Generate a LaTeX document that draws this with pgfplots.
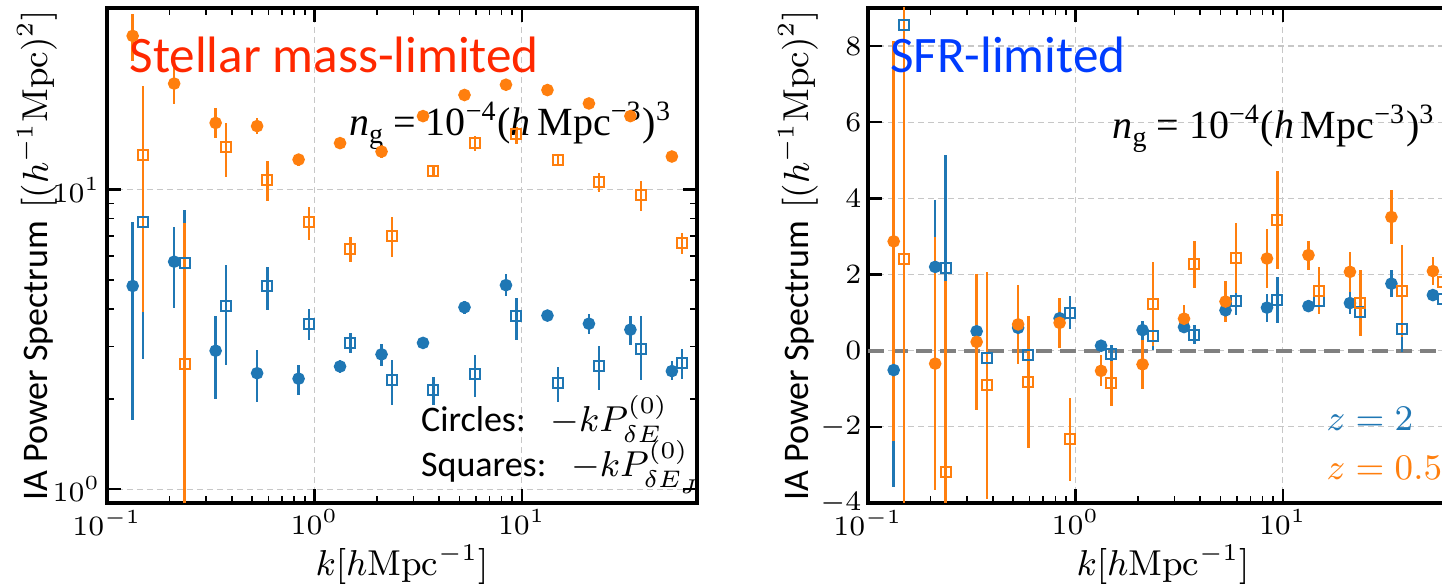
\documentclass[border=0pt]{standalone}
\usepackage{pgfplots}
\pgfplotsset{compat=1.18}
\usepackage{pgfplotstable}
\usepackage{fontspec}
\newfontfamily\gill{Carlito}
\newfontfamily\tms{Liberation Serif}
\definecolor{tblue}{HTML}{1F77B4}
\definecolor{torange}{HTML}{FF7F0E}
\definecolor{tred}{RGB}{255,40,0}
\definecolor{sblue}{RGB}{0,60,255}

% left panel (log y): k value err+ err-
\pgfplotstableread{
k v ep em
0.1330 4.77 3.06 3.07
0.2108 5.75 1.73 1.71
0.3341 2.90 0.90 0.90
0.5295 2.44 0.48 0.48
0.8392 2.34 0.26 0.27
1.330 2.57 0.13 0.12
2.108 2.82 0.24 0.25
3.341 3.08 0.08 0.08
5.295 4.05 0.20 0.20
8.392 4.80 0.43 0.37
13.30 3.80 0.10 0.10
21.08 3.57 0.28 0.26
33.41 3.41 0.39 0.38
52.95 2.48 0.19 0.17
}\lbc
\pgfplotstableread{
k v ep em
0.1492 7.83 5.10 5.10
0.2365 5.70 2.85 2.85
0.3749 4.10 1.52 1.51
0.5941 4.77 0.77 0.80
0.9416 3.57 0.43 0.43
1.492 3.08 0.24 0.23
2.365 2.32 0.39 0.41
3.749 2.15 0.22 0.24
5.941 2.42 0.38 0.39
9.416 3.79 0.57 0.63
14.92 2.26 0.30 0.31
23.65 2.57 0.43 0.42
37.49 2.94 0.86 0.62
59.41 2.64 0.29 0.30
}\lbs
\pgfplotstableread{
k v ep em
0.1330 32.6 6.0 5.7
0.2108 22.6 3.3 3.3
0.3341 16.7 2.1 1.8
0.5295 16.3 1.1 1.0
0.8392 12.6 0.6 0.6
1.330 14.3 0.3 0.3
2.108 13.4 0.7 0.6
3.341 17.6 0.3 0.3
5.295 20.7 0.4 0.4
8.392 22.4 0.4 0.4
13.30 21.5 0.4 0.4
21.08 19.4 0.4 0.4
33.41 17.6 0.4 0.4
52.95 12.9 0.3 0.3
}\loc
\pgfplotstableread{
k v ep em
0.1492 13.1 9.1 9.2
0.2365 2.62 5.1 2.3
0.3749 13.9 2.8 2.9
0.5941 10.8 1.7 1.6
0.9416 7.78 1.0 1.0
1.492 6.34 0.63 0.62
2.365 7.03 1.06 1.09
3.749 11.5 0.5 0.5
5.941 14.3 0.8 0.8
9.416 15.3 0.9 1.1
14.92 12.6 0.4 0.4
23.65 10.6 0.75 0.8
37.49 9.6 1.1 1.1
59.41 6.64 0.53 0.54
}\los
% right panel (linear y): k value err
\pgfplotstableread{
k v e
0.1330 -0.51 3.06
0.2108 2.20 1.75
0.3341 0.51 0.60
0.5295 0.60 0.30
0.8392 0.85 0.30
1.330 0.13 0.12
2.108 0.54 0.25
3.341 0.62 0.15
5.295 1.06 0.22
8.392 1.13 0.37
13.30 1.17 0.15
21.08 1.25 0.28
33.41 1.76 0.36
52.95 1.46 0.15
}\rbc
\pgfplotstableread{
k v e
0.1330 2.87 5.25
0.2108 -0.34 3.32
0.3341 0.23 1.79
0.5295 0.69 1.03
0.8392 0.73 0.66
1.330 -0.53 0.41
2.108 -0.36 0.64
3.341 0.84 0.35
5.295 1.29 0.55
8.392 2.42 0.78
13.30 2.51 0.38
21.08 2.07 0.53
33.41 3.51 0.72
52.95 2.09 0.37
}\roc
\pgfplotstableread{
k v e
0.1492 8.54 5.0
0.2365 2.16 2.97
0.3749 -0.19 1.45
0.5941 -0.12 0.50
0.9416 1.00 0.43
1.492 -0.09 0.25
2.365 0.39 0.36
3.749 0.42 0.25
5.941 1.30 0.37
9.416 1.33 0.61
14.92 1.31 0.30
23.65 1.02 0.30
37.49 0.56 0.60
59.41 1.35 0.20
}\rbs
\pgfplotstableread{
k v e
0.1492 2.40 7.0
0.2365 -3.18 5.0
0.3749 -0.91 2.98
0.5941 -0.83 1.73
0.9416 -2.33 1.10
1.492 -0.86 0.58
2.365 1.22 1.11
3.749 2.27 0.62
5.941 2.44 0.92
9.416 3.43 1.28
14.92 1.57 0.62
23.65 1.25 0.87
37.49 1.57 1.20
59.41 1.81 0.57
}\ros

\newcommand{\ngtext}{{\tms\fontsize{10}{12}\selectfont\textit{n}\raisebox{-0.22em}{\fontsize{7}{8}\selectfont g} = 10\textsuperscript{−4}(\textit{h}\,Mpc\textsuperscript{−3})\textsuperscript{3}}}
\newcommand{\ylab}{{\gill IA Power Spectrum} $[(h^{-1}\mathrm{Mpc})^2]$}

\begin{document}
\begin{tikzpicture}
\begin{axis}[name=L, at={(0pt,0pt)}, anchor=south west,
  scale only axis, width=147.5pt, height=123.75pt,
  xmode=log, xmin=0.1, xmax=70, xtick={0.1,1,10},
  ymode=log, ymin=0.9, ymax=40.4, ytick={1,10},
  tick align=inside,
  major tick length=3.5pt, minor tick length=1.75pt,
  major tick style={black, line width=0.6pt},
  minor tick style={black, line width=0.4pt},
  axis line style={line width=0.8pt},
  xmajorgrids, ymajorgrids,
  major grid style={dash pattern=on 1.5pt off 1pt, black!22, line width=0.3pt},
  tick label style={font=\fontsize{7.5}{9}\selectfont, inner sep=1.5pt}]
\addplot[only marks, mark=*, mark size=1.375pt, color=tblue,
  error bars/y dir=both, error bars/y explicit, error bars/error mark=none,
  error bars/error bar style={line width=0.6pt, solid}]
  table[x=k, y=v, y error plus=ep, y error minus=em] {\lbc};
\addplot[only marks, mark=square, mark size=1.25pt, color=tblue, mark options={line width=0.5pt, solid},
  error bars/y dir=both, error bars/y explicit, error bars/error mark=none,
  error bars/error bar style={line width=0.6pt, solid}]
  table[x=k, y=v, y error plus=ep, y error minus=em] {\lbs};
\addplot[only marks, mark=*, mark size=1.375pt, color=torange,
  error bars/y dir=both, error bars/y explicit, error bars/error mark=none,
  error bars/error bar style={line width=0.6pt, solid}]
  table[x=k, y=v, y error plus=ep, y error minus=em] {\loc};
\addplot[only marks, mark=square, mark size=1.25pt, color=torange, mark options={line width=0.5pt, solid},
  error bars/y dir=both, error bars/y explicit, error bars/error mark=none,
  error bars/error bar style={line width=0.6pt, solid}]
  table[x=k, y=v, y error plus=ep, y error minus=em] {\los};
\node[anchor=base west, text=tred, font=\gill\fontsize{12.8}{15}\selectfont, inner sep=0pt] at (rel axis cs:0.037,0.869) {Stellar mass-limited};
\node[anchor=base east, inner sep=0pt] at (rel axis cs:0.959,0.743) {\ngtext};
\node[anchor=base west, inner sep=0pt, font=\fontsize{9}{11}\selectfont] at (rel axis cs:0.531,0.144) {{\gill Circles:}\ \ $-kP^{(0)}_{\delta E}$};
\node[anchor=base west, inner sep=0pt, font=\fontsize{9}{11}\selectfont] at (rel axis cs:0.531,0.0525) {{\gill Squares:}\ \ $-kP^{(0)}_{\delta E_J}$};
\end{axis}

\begin{axis}[name=R, at={(190.25pt,0pt)}, anchor=south west,
  scale only axis, width=147.5pt, height=123.75pt,
  xmode=log, xmin=0.1, xmax=70, xtick={0.1,1,10},
  ymin=-4, ymax=9, ytick={-4,-2,0,2,4,6,8},
  tick align=inside,
  major tick length=3.5pt, minor tick length=1.75pt,
  major tick style={black, line width=0.6pt},
  minor tick style={black, line width=0.4pt},
  axis line style={line width=0.8pt},
  xmajorgrids, ymajorgrids,
  major grid style={dash pattern=on 1.5pt off 1pt, black!22, line width=0.3pt},
  tick label style={font=\fontsize{7.5}{9}\selectfont, inner sep=1.5pt}]
\addplot[gray, line width=1pt, dash pattern=on 4pt off 2pt] coordinates {(0.1,0) (70,0)};
\addplot[only marks, mark=*, mark size=1.375pt, color=tblue,
  error bars/y dir=both, error bars/y explicit, error bars/error mark=none,
  error bars/error bar style={line width=0.6pt, solid}]
  table[x=k, y=v, y error=e] {\rbc};
\addplot[only marks, mark=square, mark size=1.25pt, color=tblue, mark options={line width=0.5pt, solid},
  error bars/y dir=both, error bars/y explicit, error bars/error mark=none,
  error bars/error bar style={line width=0.6pt, solid}]
  table[x=k, y=v, y error=e] {\rbs};
\addplot[only marks, mark=*, mark size=1.375pt, color=torange,
  error bars/y dir=both, error bars/y explicit, error bars/error mark=none,
  error bars/error bar style={line width=0.6pt, solid}]
  table[x=k, y=v, y error=e] {\roc};
\addplot[only marks, mark=square, mark size=1.25pt, color=torange, mark options={line width=0.5pt, solid},
  error bars/y dir=both, error bars/y explicit, error bars/error mark=none,
  error bars/error bar style={line width=0.6pt, solid}]
  table[x=k, y=v, y error=e] {\ros};
\node[anchor=base west, text=sblue, font=\gill\fontsize{12.8}{15}\selectfont, inner sep=0pt] at (rel axis cs:0.036,0.869) {SFR-limited};
\node[anchor=base east, inner sep=0pt] at (rel axis cs:0.963,0.737) {\ngtext};
\node[anchor=base west, inner sep=0pt, text=tblue, font=\fontsize{9}{11}\selectfont] at (rel axis cs:0.776,0.147) {$z=2$};
\node[anchor=base west, inner sep=0pt, text=torange, font=\fontsize{9}{11}\selectfont] at (rel axis cs:0.776,0.048) {$z=0.5$};
\end{axis}

\node[rotate=90, anchor=center, font=\fontsize{9}{11}\selectfont] at ([xshift=-17.5pt]L.west) {\ylab};
\node[anchor=center, font=\fontsize{9}{11}\selectfont] at ([yshift=-15.5pt]L.south) {$k[h\mathrm{Mpc}^{-1}]$};
\node[rotate=90, anchor=center, font=\fontsize{9}{11}\selectfont] at ([xshift=-17.5pt]R.west) {\ylab};
\node[anchor=center, font=\fontsize{9}{11}\selectfont] at ([yshift=-15.5pt]R.south) {$k[h\mathrm{Mpc}^{-1}]$};

\pgfresetboundingbox
\path[use as bounding box] (-26.75pt,-20.25pt) rectangle (333.75pt,125.75pt);
\end{tikzpicture}
\end{document}
